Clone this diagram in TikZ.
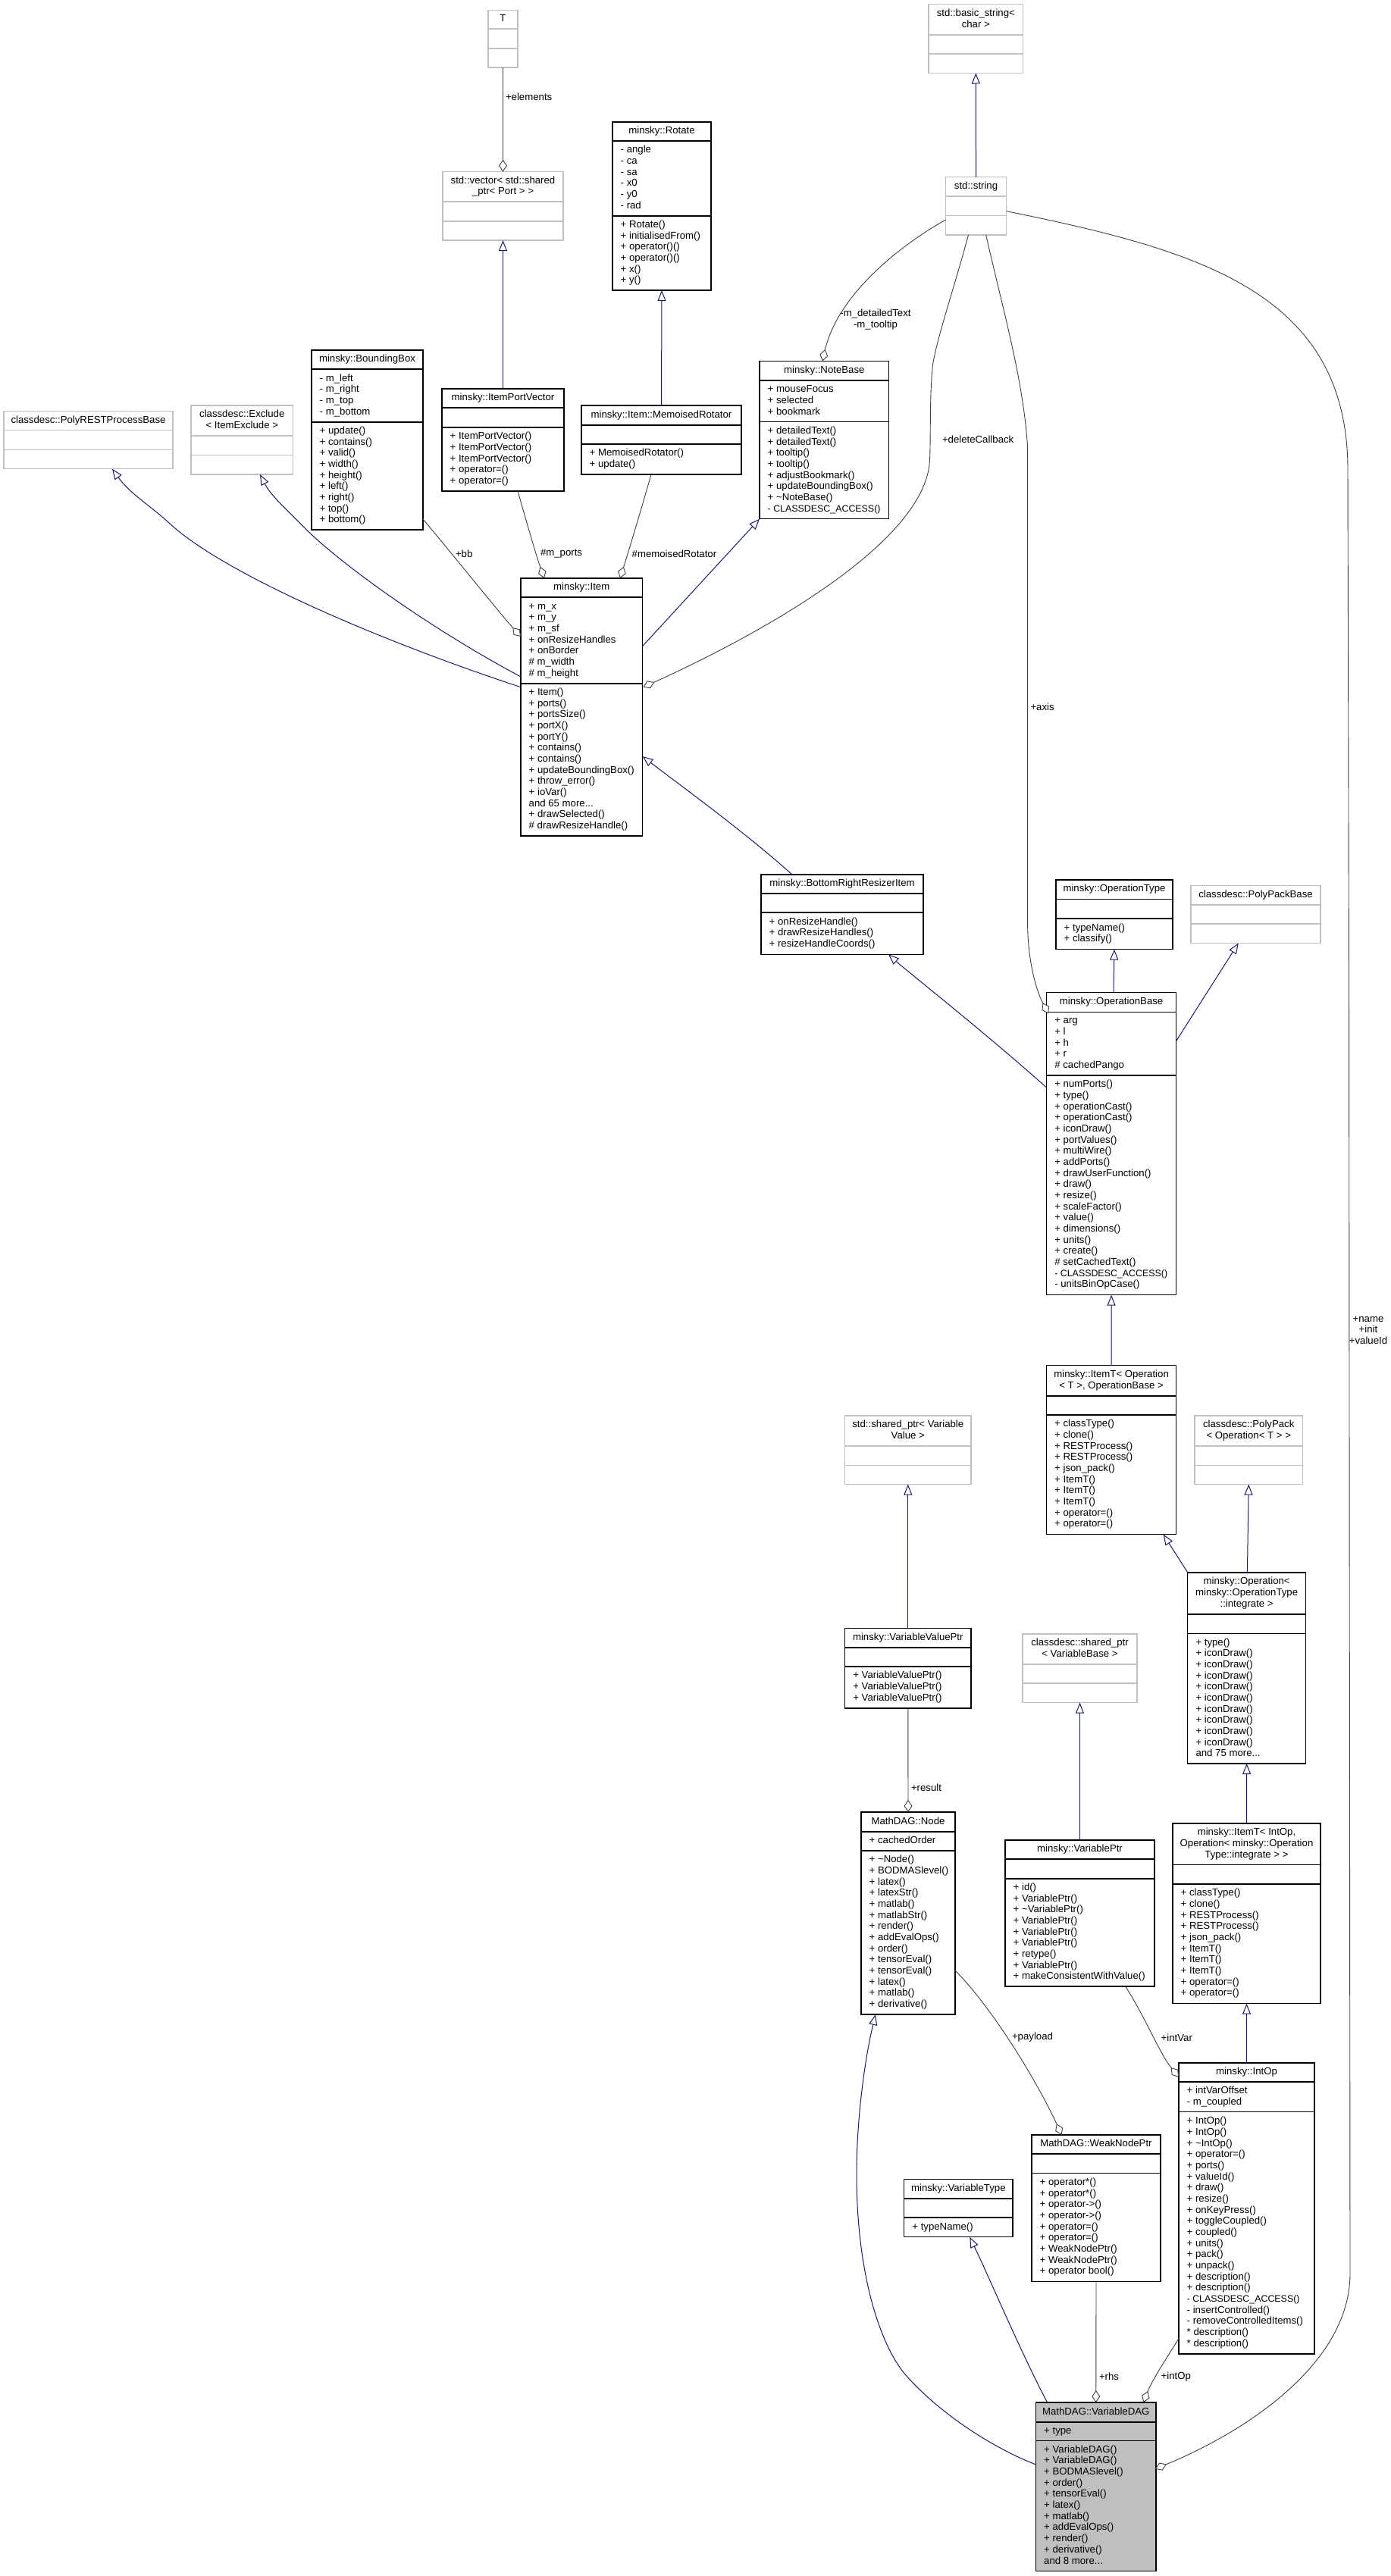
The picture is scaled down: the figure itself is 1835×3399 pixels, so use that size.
\documentclass[tikz,border=0pt]{standalone}
\usepackage{fontspec}
\setmainfont{Liberation Sans}
\usetikzlibrary{arrows.meta}
\definecolor{inhblue}{HTML}{191970}
\definecolor{agggray}{HTML}{404040}
\definecolor{ghost}{HTML}{BFBFBF}
\newcommand\rowstrut{\rule[-4.27pt]{0pt}{14.67pt}}
\newcommand\accessrow{{\fontsize{12.4}{14.67}\selectfont - CLASSDESC\_ACCESS()}}
\newcommand\umlbox[7][realbox]{%
  \node[#1,minimum width={(#5-#3)*1pt},minimum height={(#6-#4)*1pt}] (#2) at ({(#3+#5)/2},{(#4+#6)/2}) {};
  \gdef\bxa{#3}\gdef\bya{#4}\gdef\bxb{#5}\gdef\byb{#6}\gdef\bla{#7}}
\newcommand\umlsplit[2][realline]{%
  \gdef\blb{#2}%
  \draw[#1] (\bxa,\bla) -- (\bxb,\bla);
  \draw[#1] (\bxa,\blb) -- (\bxb,\blb);}
\newcommand\umltext[4]{%
  \node[titletext] (#1-t) at ({(\bxa+\bxb)/2},{(\bya+\bla)/2}) {\rowstrut #2\rowstrut};
  \if\relax\detokenize{#3}\relax\else
  \node[membertext] (#1-a) at ({\bxa+10.7},{(\bla+\blb)/2}) {\rowstrut #3\rowstrut};
  \fi
  \if\relax\detokenize{#4}\relax\else
  \node[membertext] (#1-m) at ({\bxa+10.7},{(\blb+\byb)/2}) {\rowstrut #4\rowstrut};
  \fi}
\tikzset{
  x=1pt,y=-1pt,
  realbox/.style={draw=black,fill=white,line width=1.15pt,inner sep=0pt,outer sep=0pt},
  ghostbox/.style={draw=ghost,fill=white,line width=1.15pt,inner sep=0pt,outer sep=0pt},
  focusbox/.style={draw=black,fill=ghost,line width=1.15pt,inner sep=0pt,outer sep=0pt},
  realline/.style={draw=black,line width=1.15pt},
  ghostline/.style={draw=ghost,line width=1.15pt},
  titletext/.style={inner sep=0pt,outer sep=0pt,align=center,anchor=center,font=\umlfont},
  membertext/.style={inner sep=0pt,outer sep=0pt,align=left,anchor=west,font=\umlfont},
  edgelabel/.style={inner sep=0pt,outer sep=0pt,align=center,font=\umlfont},
  inh/.style={draw=inhblue,line width=1pt,{Triangle[length=14pt,width=11pt,fill=white]}-},
  agg/.style={draw=agggray,line width=0.9pt,{Diamond[length=16pt,width=11pt,fill=white]}-},
}
\newcommand\umlfont{\fontsize{13.2}{14.67}\selectfont}
\begin{document}
\begin{tikzpicture}
\useasboundingbox[fill=white] (0,0) rectangle (1835,3399);

\umlbox[ghostbox]{tcls}{644}{13.4}{683}{89}{38}\umlsplit[ghostline]{64}
\umltext{tcls}{T}{}{}
\umlbox[ghostbox]{vec}{584}{226.6}{743}{317}{266}\umlsplit[ghostline]{292}
\umltext{vec}{std::vector< std::shared\\\_ptr< Port > >}{}{}
\umlbox[ghostbox]{bstr}{1225}{5.7}{1349.6}{96.5}{46}\umlsplit[ghostline]{71}
\umltext{bstr}{std::basic\_string<\\ char >}{}{}
\umlbox[ghostbox]{str}{1247.6}{233.8}{1327.5}{310}{259}\umlsplit[ghostline]{284.5}
\umltext{str}{std::string}{}{}
\umlbox{rot}{808}{161}{938}{383}{186}\umlsplit{285}
\umltext{rot}{minsky::Rotate}{- angle\\- ca\\- sa\\- x0\\- y0\\- rad}{+ Rotate()\\+ initialisedFrom()\\+ operator()()\\+ operator()()\\+ x()\\+ y()}
\umlbox[ghostbox]{prest}{5}{542.7}{228}{618.7}{567.7}\umlsplit[ghostline]{593.3}
\umltext{prest}{classdesc::PolyRESTProcessBase}{}{}
\umlbox[ghostbox]{excl}{252}{535}{386.6}{626}{575}\umlsplit[ghostline]{600.7}
\umltext{excl}{classdesc::Exclude\\< ItemExclude >}{}{}
\umlbox{bbox}{411}{462}{558}{699}{487}\umlsplit{557}
\umltext{bbox}{minsky::BoundingBox}{- m\_left\\- m\_right\\- m\_top\\- m\_bottom}{+ update()\\+ contains()\\+ valid()\\+ width()\\+ height()\\+ left()\\+ right()\\+ top()\\+ bottom()}
\umlbox{ipv}{583}{513}{744}{648}{538}\umlsplit{564}
\umltext{ipv}{minsky::ItemPortVector}{}{+ ItemPortVector()\\+ ItemPortVector()\\+ ItemPortVector()\\+ operator=()\\+ operator=()}
\umlbox{memo}{767}{535}{978}{626}{561}\umlsplit{586}
\umltext{memo}{minsky::Item::MemoisedRotator}{}{+ MemoisedRotator()\\+ update()}
\umlbox{note}{1002}{476.5}{1172.5}{684.7}{502}\umlsplit{556.6}
\umltext{note}{minsky::NoteBase}{+ mouseFocus\\+ selected\\+ bookmark}{+ detailedText()\\+ detailedText()\\+ tooltip()\\+ tooltip()\\+ adjustBookmark()\\+ updateBoundingBox()\\+ \textasciitilde NoteBase()\\\accessrow}
\umlbox{item}{687}{763}{847.5}{1103}{788}\umlsplit{902}
\umltext{item}{minsky::Item}{+ m\_x\\+ m\_y\\+ m\_sf\\+ onResizeHandles\\+ onBorder\\\# m\_width\\\# m\_height}{+ Item()\\+ ports()\\+ portsSize()\\+ portX()\\+ portY()\\+ contains()\\+ contains()\\+ updateBoundingBox()\\+ throw\_error()\\+ ioVar()\\and 65 more...\\+ drawSelected()\\\# drawResizeHandle()}
\umlbox{brri}{1004}{1154}{1218}{1259.3}{1179}\umlsplit{1204}
\umltext{brri}{minsky::BottomRightResizerItem}{}{+ onResizeHandle()\\+ drawResizeHandles()\\+ resizeHandleCoords()}
\umlbox{optype}{1393}{1161}{1547}{1252.6}{1186.6}\umlsplit{1212}
\umltext{optype}{minsky::OperationType}{}{+ typeName()\\+ classify()}
\umlbox[ghostbox]{ppb}{1571}{1168.4}{1742}{1244.5}{1194}\umlsplit[ghostline]{1219}
\umltext{ppb}{classdesc::PolyPackBase}{}{}
\umlbox{opbase}{1380.6}{1309.6}{1551.5}{1708.6}{1335.4}\umlsplit{1419}
\umltext{opbase}{minsky::OperationBase}{+ arg\\+ l\\+ h\\+ r\\\# cachedPango}{+ numPorts()\\+ type()\\+ operationCast()\\+ operationCast()\\+ iconDraw()\\+ portValues()\\+ multiWire()\\+ addPorts()\\+ drawUserFunction()\\+ draw()\\+ resize()\\+ scaleFactor()\\+ value()\\+ dimensions()\\+ units()\\+ create()\\\# setCachedText()\\\accessrow\\- unitsBinOpCase()}
\umlbox{itop}{1380.5}{1801.7}{1551.7}{2024.6}{1842}\umlsplit{1867}
\umltext{itop}{minsky::ItemT< Operation\\< T >, OperationBase >}{}{+ classType()\\+ clone()\\+ RESTProcess()\\+ RESTProcess()\\+ json\_pack()\\+ ItemT()\\+ ItemT()\\+ ItemT()\\+ operator=()\\+ operator=()}
\umlbox[ghostbox]{spvv}{1114.6}{1868}{1281}{1958.6}{1908}\umlsplit[ghostline]{1933.7}
\umltext{spvv}{std::shared\_ptr< Variable\\Value >}{}{}
\umlbox[ghostbox]{ppop}{1576}{1868}{1718.5}{1958.6}{1908}\umlsplit[ghostline]{1933.7}
\umltext{ppop}{classdesc::PolyPack\\< Operation< T > >}{}{}
\umlbox{opint}{1566.8}{2075}{1722.5}{2327}{2130}\umlsplit{2155.7}
\umltext{opint}{minsky::Operation<\\ minsky::OperationType\\::integrate >}{}{+ type()\\+ iconDraw()\\+ iconDraw()\\+ iconDraw()\\+ iconDraw()\\+ iconDraw()\\+ iconDraw()\\+ iconDraw()\\+ iconDraw()\\+ iconDraw()\\and 75 more...}
\umlbox{vvp}{1114.6}{2148.6}{1281}{2254}{2174}\umlsplit{2199}
\umltext{vvp}{minsky::VariableValuePtr}{}{+ VariableValuePtr()\\+ VariableValuePtr()\\+ VariableValuePtr()}
\umlbox[ghostbox]{spvb}{1349}{2156}{1500}{2246.6}{2196}\umlsplit[ghostline]{2221}
\umltext{spvb}{classdesc::shared\_ptr\\< VariableBase >}{}{}
\umlbox{mnode}{1136}{2391}{1260}{2658}{2417}\umlsplit{2442}
\umltext{mnode}{MathDAG::Node}{+ cachedOrder}{+ \textasciitilde Node()\\+ BODMASlevel()\\+ latex()\\+ latexStr()\\+ matlab()\\+ matlabStr()\\+ render()\\+ addEvalOps()\\+ order()\\+ tensorEval()\\+ tensorEval()\\+ latex()\\+ matlab()\\+ derivative()}
\umlbox{varp}{1326}{2428}{1523}{2621}{2453}\umlsplit{2479}
\umltext{varp}{minsky::VariablePtr}{}{+ id()\\+ VariablePtr()\\+ \textasciitilde VariablePtr()\\+ VariablePtr()\\+ VariablePtr()\\+ VariablePtr()\\+ retype()\\+ VariablePtr()\\+ makeConsistentWithValue()}
\umlbox{itint}{1547}{2406}{1742}{2643.7}{2460.5}\umlsplit{2486}
\umltext{itint}{minsky::ItemT< IntOp,\\ Operation< minsky::Operation\\Type::integrate > >}{}{+ classType()\\+ clone()\\+ RESTProcess()\\+ RESTProcess()\\+ json\_pack()\\+ ItemT()\\+ ItemT()\\+ ItemT()\\+ operator=()\\+ operator=()}
\umlbox{intop}{1555}{2722}{1734}{3106}{2747}\umlsplit{2786.6}
\umltext{intop}{minsky::IntOp}{+ intVarOffset\\- m\_coupled}{+ IntOp()\\+ IntOp()\\+ \textasciitilde IntOp()\\+ operator=()\\+ ports()\\+ valueId()\\+ draw()\\+ resize()\\+ onKeyPress()\\+ toggleCoupled()\\+ coupled()\\+ units()\\+ pack()\\+ unpack()\\+ description()\\+ description()\\\accessrow\\- insertControlled()\\- removeControlledItems()\\* description()\\* description()}
\umlbox{wnp}{1361}{2817}{1531}{3010.5}{2842}\umlsplit{2867.7}
\umltext{wnp}{MathDAG::WeakNodePtr}{}{+ operator*()\\+ operator*()\\+ operator->()\\+ operator->()\\+ operator=()\\+ operator=()\\+ WeakNodePtr()\\+ WeakNodePtr()\\+ operator bool()}
\umlbox{vtype}{1192.7}{2875.6}{1336}{2951.8}{2901}\umlsplit{2926}
\umltext{vtype}{minsky::VariableType}{}{+ typeName()}
\umlbox[focusbox]{vdag}{1366.5}{3170}{1525}{3392.5}{3196}\umlsplit{3220.6}
\umltext{vdag}{MathDAG::VariableDAG}{+ type}{+ VariableDAG()\\+ VariableDAG()\\+ BODMASlevel()\\+ order()\\+ tensorEval()\\+ latex()\\+ matlab()\\+ addEvalOps()\\+ render()\\+ derivative()\\and 8 more...}

% inheritance
\draw[inh] (vec.south) -- (ipv.north);
\draw[inh] (rot.south) -- (memo.north);
\draw[inh] (bstr.south) -- (str.north);
\draw[inh] (spvv.south) -- (vvp.north);
\draw[inh] (spvb.south) -- (varp.north);
\draw[inh] (ppop.south) -- ([shift={(78.6,0)}]opint.north west);
\draw[inh] ([shift={(154.2,0)}]itop.south west) -- (opint.north west);
\draw[inh] (opint.south) -- (itint.north);
\draw[inh] (itint.south) -- (intop.north);
\draw[inh] (opbase.south) -- (itop.north);
\draw[inh] (optype.south) -- ([shift={(88.4,0)}]opbase.north west);
\draw[inh] ([shift={(62.7,0)}]ppb.south west) -- ([shift={(0,64.1)}]opbase.north east);
\draw[inh] ([shift={(168,0)}]brri.south west) .. controls (1195,1280) and (1300,1363) .. ([shift={(0,125.4)}]opbase.north west);
\draw[inh] ([shift={(0,235)}]item.north east) .. controls (900,1038) and (985,1100) .. ([shift={(41,0)}]brri.north west);
\draw[inh] (note.south west) -- ([shift={(0,89.7)}]item.north east);
\draw[inh] ([shift={(91,0)}]excl.south west) .. controls (358,655) and (378,672) .. (402,696.7) .. controls (445,740) and (560,825) .. ([shift={(0,130)}]item.north west);
\draw[inh] ([shift={(143,0)}]prest.south west) .. controls (172,652) and (197,666) .. (223,690) .. controls (295,757) and (500,845) .. ([shift={(0,143.7)}]item.north west);
\draw[inh] ([shift={(86.6,0)}]vtype.south west) .. controls (1305,3005) and (1345,3100) .. ([shift={(15,0)}]vdag.north west);
\draw[inh] ([shift={(19,0)}]mnode.south west) .. controls (1140,2720) and (1130,2800) .. (1130,2867.7) .. controls (1130,3010) and (1165,3100) .. (1195,3134) .. controls (1240,3185) and (1310,3230) .. ([shift={(0,82)}]vdag.north west);

% aggregation
\draw[agg] (vec.north) -- (tcls.south);
\draw[agg] ([shift={(83,0)}]note.north west) .. controls (1105,390) and (1185,325) .. ([shift={(0,56.2)}]str.north west);
\draw[agg] ([shift={(1,143.7)}]item.north east) .. controls (985,845) and (1222,720) .. (1226.5,606.7) .. controls (1228,575) and (1226,515) .. (1231,478) .. controls (1238,440) and (1258,382) .. ([shift={(29.9,0)}]str.south west);
\draw[agg] ([shift={(2.4,27.9)}]opbase.north west) .. controls (1366,1305) and (1355.6,1265) .. (1355.6,1218) -- (1355.6,590) .. controls (1350,500) and (1322,405) .. ([shift={(53.1,0)}]str.south west);
\draw[agg] ([shift={(-1,87.6)}]vdag.north east) .. controls (1640,3210) and (1781,3120) .. (1781,3000) -- (1779.5,1300) -- (1778,620) .. controls (1778,385) and (1580,330) .. ([shift={(0,44.8)}]str.north east);
\draw[agg] ([shift={(0,77)}]item.north west) .. controls (660,810) and (600,735) .. ([shift={(0,-14)}]bbox.south east);
\draw[agg] ([shift={(31,0)}]item.north west) .. controls (708,735) and (695,690) .. ([shift={(100,0)}]ipv.south west);
\draw[agg] ([shift={(131,0)}]item.north west) .. controls (830,725) and (845,675) .. ([shift={(92,0)}]memo.south west);
\draw[agg] (mnode.north) -- (vvp.south);
\draw[agg] ([shift={(39.5,0)}]wnp.north west) .. controls (1370,2750) and (1310,2650) .. ([shift={(0,-58)}]mnode.south east);
\draw[agg] ([shift={(0,18.6)}]intop.north west) .. controls (1530,2710) and (1510,2660) .. ([shift={(158.6,0)}]varp.south west);
\draw[agg] (vdag.north) -- (wnp.south);
\draw[agg] ([shift={(142,0)}]vdag.north west) .. controls (1520,3140) and (1540,3110) .. ([shift={(0,-20.4)}]intop.south west);

% edge labels
\node[edgelabel,anchor=west] (l-elements) at (667,128) {+elements};
\node[edgelabel] (l-note) at (1155,421.7) {-m\_detailedText\\-m\_tooltip};
\node[edgelabel,anchor=west] (l-delete) at (1243,580) {+deleteCallback};
\node[edgelabel,anchor=west] (l-bb) at (601,730.6) {+bb};
\node[edgelabel,anchor=west] (l-ports) at (713,730.6) {\#m\_ports};
\node[edgelabel,anchor=west] (l-memo) at (833.7,730.6) {\#memoisedRotator};
\node[edgelabel,anchor=west] (l-axis) at (1359.5,932.5) {+axis};
\node[edgelabel] (l-name) at (1805,1755) {+name\\+init\\+valueId};
\node[edgelabel,anchor=west] (l-result) at (1202,2358.5) {+result};
\node[edgelabel,anchor=west] (l-payload) at (1335,2688.5) {+payload};
\node[edgelabel,anchor=west] (l-intvar) at (1531.7,2688.5) {+intVar};
\node[edgelabel,anchor=west] (l-rhs) at (1450,3136) {+rhs};
\node[edgelabel,anchor=west] (l-intop) at (1531.7,3136) {+intOp};
\end{tikzpicture}
\end{document}
